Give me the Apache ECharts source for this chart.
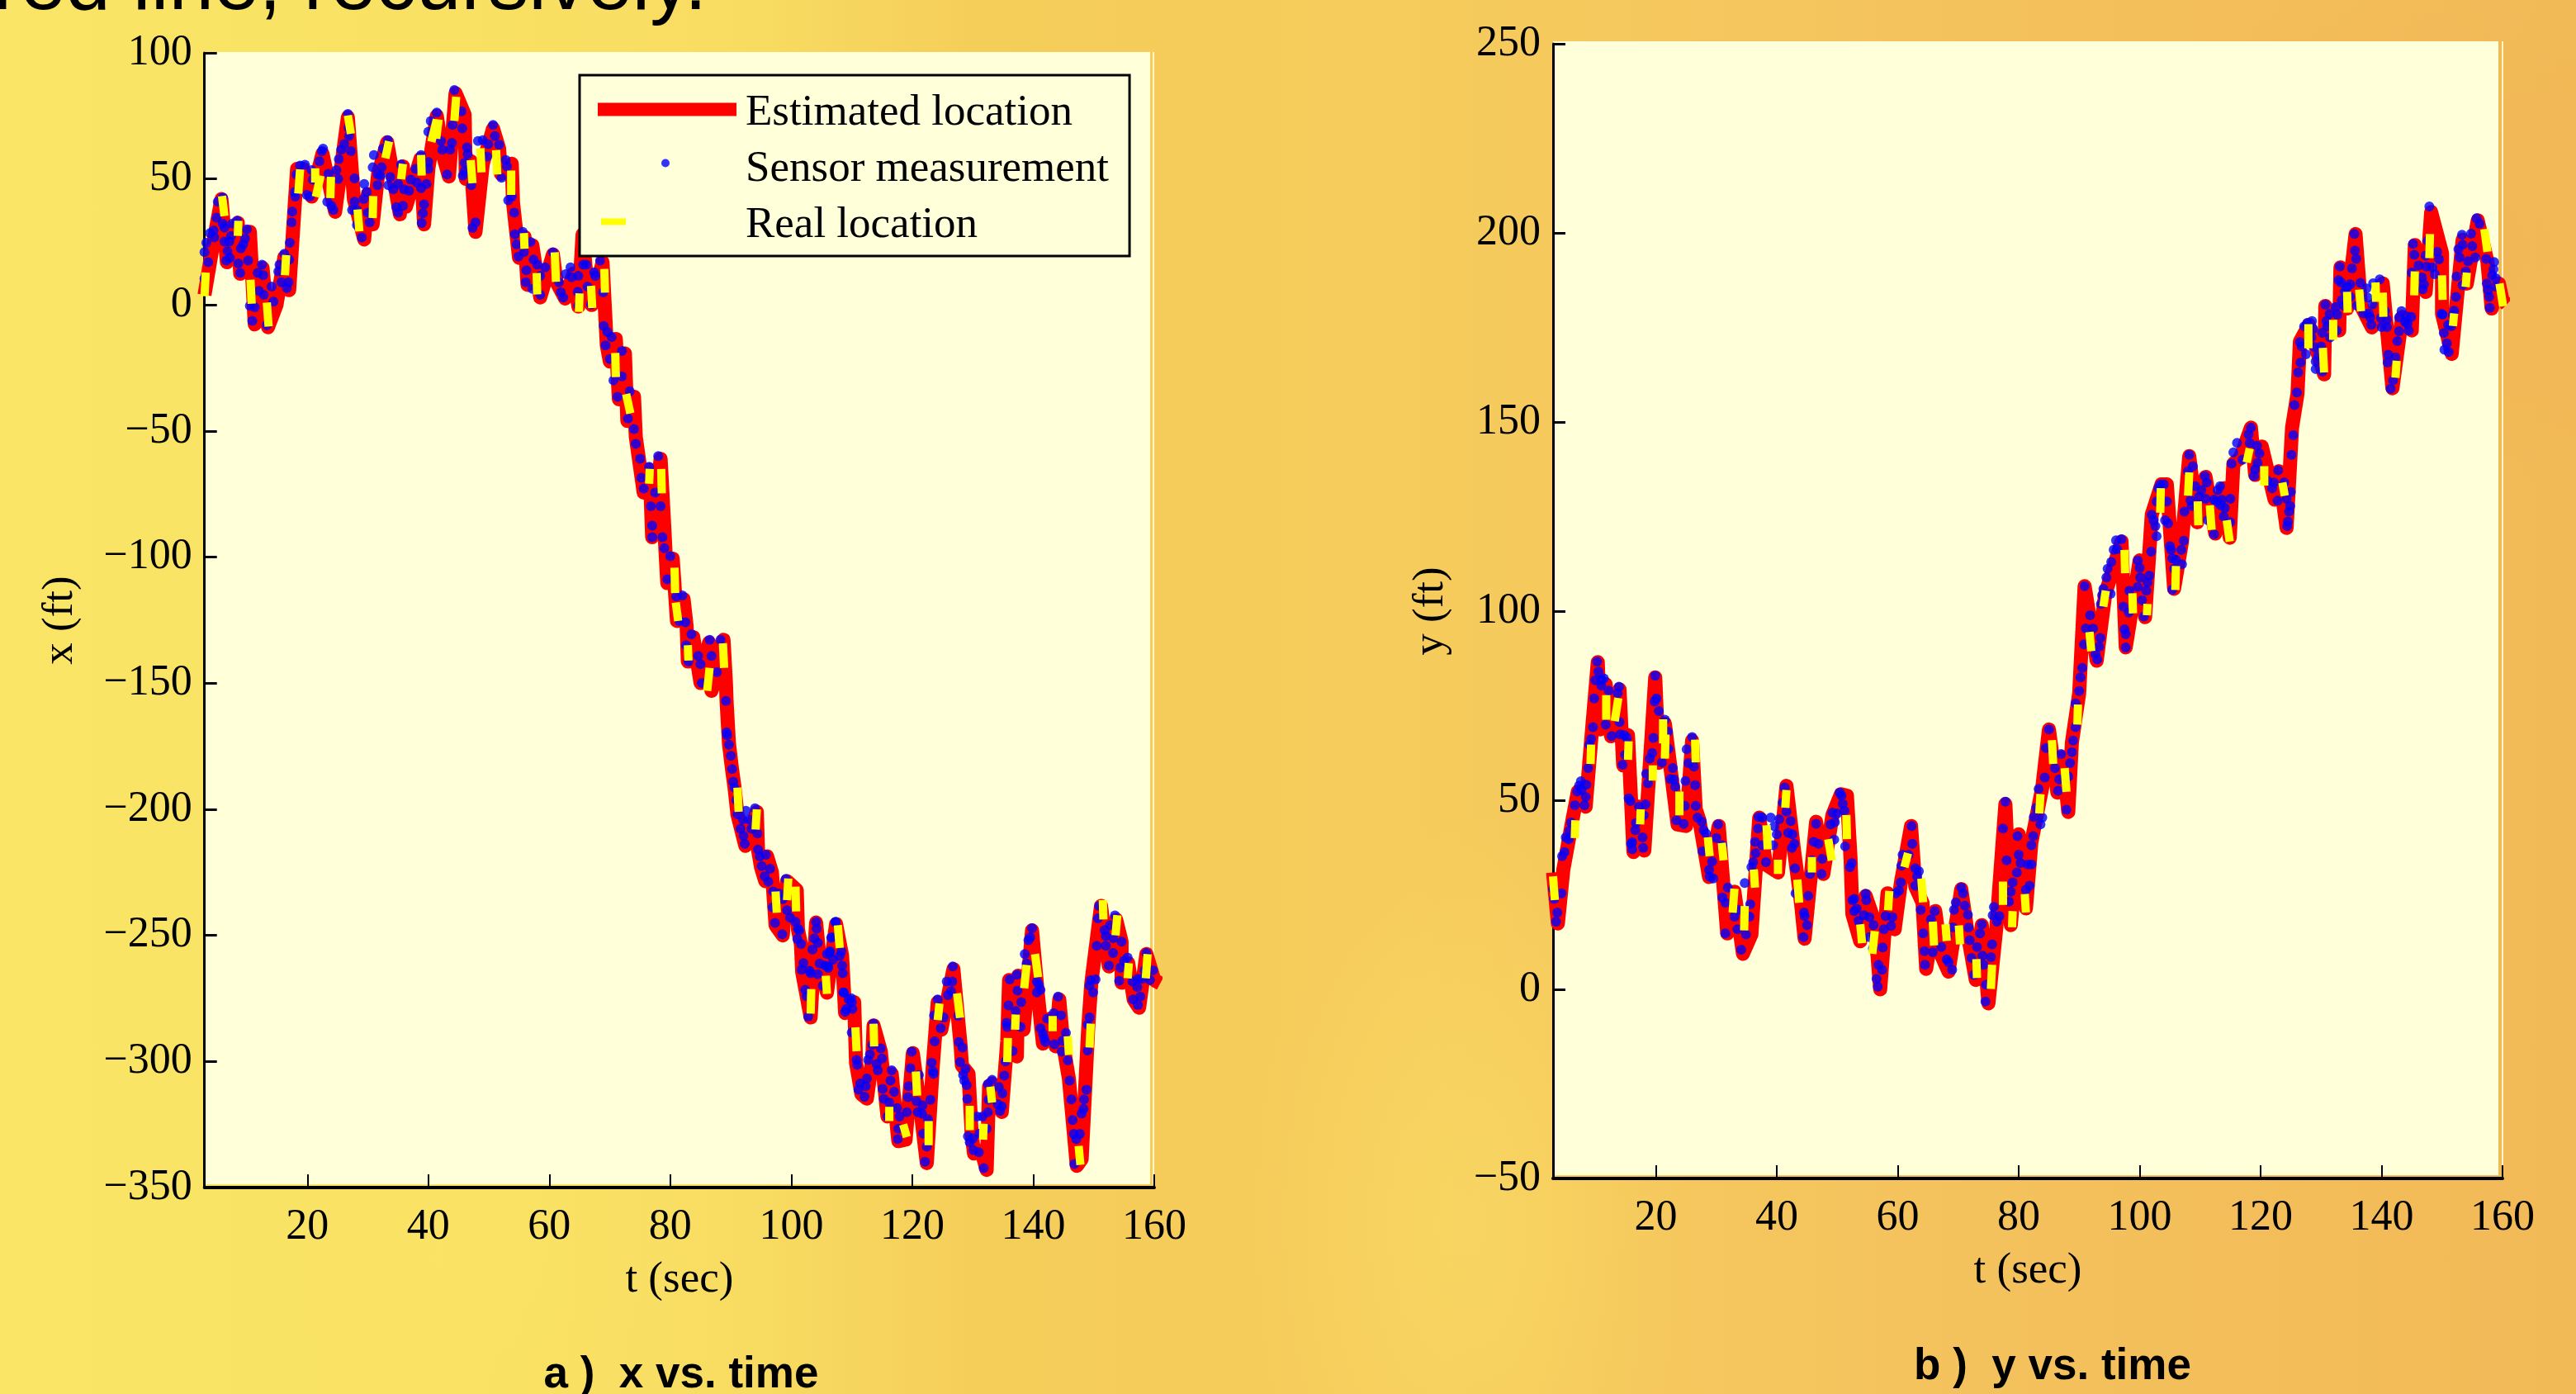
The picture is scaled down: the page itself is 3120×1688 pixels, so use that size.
<!DOCTYPE html>
<html><head><meta charset="utf-8">
<style>
html,body{margin:0;padding:0;width:3120px;height:1688px;overflow:hidden;
background:
 radial-gradient(ellipse 260px 500px at 1780px 1480px,rgba(249,217,100,.75),rgba(249,217,100,0)),
 radial-gradient(ellipse 500px 300px at 2900px 300px,rgba(241,178,84,.55),rgba(241,178,84,0)),
 radial-gradient(ellipse 300px 500px at 600px 1500px,rgba(251,228,103,.5),rgba(251,228,103,0)),
 linear-gradient(90deg,#FAE567 0,#F9E263 500px,#F8DC62 900px,#F5CD59 1200px,#F6CC5C 1700px,#F4C35E 2300px,#F2B957 3120px);}
#c{width:3120px;height:1688px;}
</style>
<script src="https://cdn.jsdelivr.net/npm/echarts@6/dist/echarts.min.js"></script>
</head><body><div id="c"></div>
<script>
const tickT = [20,40,60,80,100,120,140,160];
const seriesNames = ['Estimated location','Sensor measurement','Real location'];
const estimatedX = [[3,4],[4.4,24],[5.8,42],[6.7,17],[7.6,26],[8.5,32.6],[8.9,12.4],[10.5,29],[11.3,-7.7],[12.6,14.7],[13.5,-8.8],[14.9,0],[16.2,19],[17,5.9],[18.3,54],[19.3,54],[20.7,43],[22.5,60],[24.6,37],[26.7,74.5],[27.7,42],[29.4,26],[30,44],[30.8,32],[31.7,52],[33.2,64.5],[35.3,36],[35.8,55],[36.3,39],[38.7,58],[39.3,32],[40,54],[41.4,75],[42.3,60.5],[43.4,51],[44.5,84],[46,75.5],[46.2,50],[47,57],[47.8,29],[49,56],[50.7,70],[51.7,62],[52,52],[53.8,56],[54,40.6],[55,18.7],[55.9,27],[56.4,8],[57.2,23.6],[58.5,3],[60.6,20],[61.2,9],[62.6,2.6],[64,12.5],[64.8,-0.6],[65.5,28],[66,15],[67,0],[68.8,16.9],[69.5,-15.9],[70,-22.4],[71,-13.5],[71.5,-37.4],[72.5,-19.2],[72.9,-46],[74,-36.4],[74.3,-52.4],[75,-64.2],[75.6,-74.4],[76.6,-65.3],[77,-92.1],[78.4,-61],[79,-87.8],[79.2,-97.4],[79.5,-110.3],[80.4,-100.6],[81.1,-125.3],[82.2,-116.7],[82.7,-127.4],[82.9,-141.4],[83.8,-131.7],[85,-149.9],[86.4,-133.9],[86.8,-153],[87.6,-147.8],[88.8,-132.8],[89.2,-150],[89.3,-157],[89.7,-174],[90.2,-184],[90.6,-191],[91.1,-202],[92.4,-214.5],[94.3,-201],[94.5,-216],[95,-223],[95.7,-228.5],[96,-218.7],[96.8,-225],[97.4,-246],[98.6,-250],[99.3,-228.5],[100.9,-232],[101.1,-247.6],[101.6,-253.6],[101.8,-264.5],[103.2,-282.5],[104.1,-244.9],[104.8,-262],[105.9,-272.7],[107.4,-245.5],[108.4,-258],[108.9,-280.8],[110.4,-276.5],[110.7,-300.5],[111.6,-313],[112.5,-314.7],[113.4,-299],[113.6,-285.7],[114.8,-296],[115.9,-321.8],[116.6,-304.9],[117.7,-331.6],[118.9,-331],[120.1,-296.7],[121.4,-320],[122.4,-340.3],[123.4,-301.6],[124.2,-276.5],[124.8,-287.4],[126.8,-263.4],[128,-294],[128.2,-301.6],[129.3,-304.9],[129.8,-327.8],[130.2,-336.5],[131.4,-335.4],[132.3,-343],[132.7,-310],[133.2,-308.7],[134.8,-320],[135.7,-291.8],[136,-267.7],[137.3,-298],[137.5,-266],[138.4,-287.4],[139.8,-248],[140.7,-272],[141.6,-292.9],[142.8,-283],[143.7,-294],[144.3,-275.4],[145,-294],[145.9,-307],[147.2,-341.4],[148,-338.7],[149.1,-286],[149.6,-268.8],[151.2,-238.3],[152.5,-262.3],[153.7,-243.7],[154.6,-252.5],[154.6,-268.8],[155.7,-261],[156.6,-275.4],[157.5,-278.7],[158.7,-257.4],[160,-267.7],[161,-269]];
const sensorX = [[3,10.5],[3,21],[3.6,17],[3.3,24.7],[3.9,28.5],[4.5,29.6],[4.6,26.8],[5,34.7],[5.2,41],[6,42.6],[6,32.3],[6.3,30.7],[6.3,25.2],[6.6,17.6],[6.8,21.4],[7.2,18.7],[7.1,25.2],[7.6,32.3],[7.4,27.4],[8.4,33.4],[8.6,16.5],[8.9,12.7],[9,22.5],[9.4,24],[9.7,26.3],[10,30],[10.2,17.6],[10.5,-0.3],[11.3,-0.9],[10.9,-6.3],[11.8,12.7],[12.5,16],[12.7,11.8],[12,5.6],[12.8,4],[13.3,-8],[14.4,1.3],[14.1,7.3],[15.4,16],[15.2,13.3],[15.7,9],[16.2,20.3],[16.9,9],[16.6,6.7],[17,18],[17.1,24.7],[17.4,32.8],[17.5,37],[18,43],[17.9,44.8],[18.2,51.8],[18.8,55.3],[19.6,55.6],[19.9,43.7],[20.7,53.5],[20.9,49.7],[20.4,43],[22,57],[22.4,61],[22.6,62],[23.5,52],[23.3,41],[24,39.3],[24.3,37.7],[24.8,53.5],[25.1,50],[25.2,57.8],[25.6,61.6],[26.1,63.8],[27.2,61],[26.8,70.3],[26.7,75.8],[26.9,67],[27.8,50.2],[27.4,37.7],[27.8,41],[28.2,37.7],[28.2,31.7],[29,26.8],[29.4,48],[29.8,44.8],[29.3,42],[30.3,32.8],[30,36.6],[31.6,47.5],[31,59.5],[30.8,54.6],[31.6,51.8],[32.3,54.6],[32.1,51.3],[32.5,62],[33.3,65.4],[33.7,50.8],[33.4,47.5],[34.2,45.9],[35,48],[34.7,38.8],[35,36.6],[35.8,39.3],[35.5,55.7],[36,45.9],[36.8,45.3],[37.1,49.7],[37.9,54],[38.1,48.6],[38.8,59.5],[38.8,46.4],[39.7,48],[40,54],[40,56.7],[39.3,39.9],[39.1,36.4],[38.9,32.5],[40,68.7],[40.4,73],[41.4,76.3],[42.1,65],[42.3,61.6],[43.1,51.8],[43.6,61.6],[43.9,64.3],[44.3,85.3],[44,71.4],[45.5,76.8],[45.6,70],[46.4,62.5],[46.5,59.8],[46,56.4],[46,53],[45.7,51.3],[47.1,47.5],[47.3,30.6],[47.8,32.8],[48.2,65],[49,65.4],[49.9,63.8],[50.7,71.4],[49.7,58.9],[51,67],[51.7,63.6],[52.1,50.5],[52.8,57.5],[53,55],[53.8,43],[53.2,41.5],[54.2,36.6],[54.3,28],[55.6,29],[54.6,24],[56.9,25],[54.9,19.2],[55.8,21],[56.2,13.8],[56.1,9],[57.4,18],[58,16],[57.2,6.4],[58.5,4],[59.3,14.9],[58.5,11.6],[60.6,20.9],[61.9,5],[62.3,3],[61.6,9],[62.7,12.2],[63.5,14.9],[63.7,11],[64.8,11.6],[64.7,5.3],[64.8,-0.3],[65.6,16],[66.1,16],[66.9,0.2],[66.3,7.3],[67.4,13],[67.6,11.6],[68.4,17.6],[68.9,5],[69,-8.3],[69.6,-10.7],[70.3,-12.7],[69.3,-16],[70,-21.4],[70.6,-29.9],[72,-28.3],[71.3,-36.4],[72,-18.2],[73.3,-34.2],[73,-45],[74,-49.2],[74.3,-55.1],[75,-61],[76.5,-64.2],[78,-59.9],[75.2,-68.5],[75.6,-72.8],[77.5,-74.4],[76.8,-79.8],[78.4,-79.8],[77,-87.5],[77,-92.1],[78.7,-92.1],[79,-96.4],[80,-99.6],[79.5,-108.8],[81,-115.6],[82,-115.2],[81.5,-125.3],[82.5,-125.8],[83.5,-130.6],[82.6,-134.9],[83,-141.4],[84.6,-139.2],[86.5,-132.8],[85,-142.4],[88.3,-132.8],[86.8,-139.2],[87.7,-145.6],[85.2,-149.9],[89.2,-157],[89.3,-169.5],[89.4,-170.6],[89.7,-174.4],[90,-178.8],[90.2,-184],[90.4,-189],[90.6,-191.4],[90.9,-196.3],[91.1,-202],[92.5,-200.6],[92,-204],[91.6,-207.7],[92.1,-210.5],[92.3,-213.7],[93,-204],[94,-199.6],[93.4,-207.7],[94.4,-209.6],[94.5,-216],[94.8,-218.7],[95.8,-218],[95.1,-222.5],[96.5,-223.6],[95.6,-226.5],[96.2,-228.7],[97,-232.6],[99.1,-227.6],[98,-233.4],[98.6,-235.6],[96.9,-238.9],[97.3,-245],[99.3,-240],[98.5,-249.5],[99.8,-243],[100.7,-244.6],[101.1,-247.3],[101.3,-248.1],[101,-251.4],[101.6,-253.4],[102,-261],[101.7,-263.6],[103,-264],[103.2,-265],[104.1,-244.6],[104.2,-247.3],[103.8,-251.2],[104.4,-253],[103.5,-255.6],[104.4,-265.4],[104.7,-261.2],[105.6,-262],[106.1,-262.9],[105.9,-257.4],[106.4,-256.3],[106.9,-259.6],[106.6,-250.9],[107.3,-244.6],[108,-258.2],[108.3,-256.3],[108.4,-262],[108.5,-265],[102.3,-271.6],[102.5,-274.1],[102.8,-282.2],[105.2,-270],[108.7,-272.7],[109.5,-275.4],[109.9,-274.9],[110.1,-279.2],[108.9,-280.3],[107.3,-244.8],[106.7,-250.8],[106.4,-256.8],[106.1,-262.3],[108.6,-272.6],[110,-276.5],[109.1,-279.2],[110,-288.5],[110.8,-299.4],[110.9,-301.4],[111.4,-308.7],[112.5,-306.8],[112.3,-309.8],[111.1,-311.2],[112.1,-314],[113.6,-285],[113.4,-293.4],[114.8,-294.8],[113,-297.2],[115,-298.8],[112.7,-299.4],[114.1,-301],[114.3,-303.5],[116.6,-303.5],[116.4,-307.6],[115.1,-310.9],[117,-312],[115.3,-314.9],[116.2,-316.3],[117.5,-318.5],[117.9,-321.8],[115.9,-321.8],[119.1,-320.1],[117.7,-326.7],[117.6,-330.8],[119.9,-296.1],[119.7,-302.7],[119.4,-309.8],[121.1,-305.4],[119.3,-314.1],[120.7,-315.8],[121.7,-317.4],[120.9,-320.1],[121.6,-320.7],[122.6,-322.9],[121.8,-328.6],[122.4,-333.8],[122.1,-339.8],[123,-315.2],[123.2,-300.5],[123.4,-303.8],[123.5,-304.9],[123.7,-292],[124.2,-275.4],[123.6,-281.7],[125.2,-282.5],[124.7,-286.8],[125.7,-268.3],[126.6,-268.3],[126.7,-262.3],[126.4,-272.1],[125.9,-273.7],[127.6,-281.9],[127.7,-292.3],[128.3,-294.5],[127.9,-300.2],[128.8,-302.9],[128.4,-305.4],[128.6,-307.6],[129,-309.4],[129.1,-314.9],[129.2,-329.7],[130,-330.5],[129.5,-332.1],[130.1,-335.2],[131,-336],[130.7,-321.8],[131.6,-321.8],[132.5,-320.1],[132.3,-326.7],[131.1,-328.6],[131.8,-342.3],[132.5,-309],[133.2,-307.3],[134.3,-310.1],[134.9,-312.7],[132.6,-315.2],[134.1,-316.9],[134.8,-317.7],[134.5,-319.6],[135.2,-305.6],[135.4,-300],[136.6,-295.9],[135.7,-286.3],[135.6,-284.7],[135.9,-277.8],[136.1,-267.5],[137.3,-265.6],[137.4,-271.9],[138,-276.5],[137.1,-280],[137.9,-286.3],[138.6,-257.4],[138.9,-261.2],[139.2,-251.9],[139.5,-250.8],[139.8,-247.2],[140.6,-268.3],[140.9,-269.4],[140.6,-272.6],[141.2,-271.6],[142.3,-283],[143.4,-280.8],[144.1,-274.3],[144.6,-281.7],[141.2,-286.8],[141.6,-289],[141.8,-290.7],[142,-292.3],[143.5,-293.2],[144.8,-291.8],[145.4,-288.7],[144.7,-296.1],[145.7,-299.6],[146,-307.6],[146.3,-315],[146.5,-323.2],[146.7,-328.7],[147.7,-328.7],[147.1,-330.8],[146.8,-340.7],[148.8,-311.2],[148.4,-315],[148.3,-318.8],[148,-320.7],[149,-295.6],[149,-285.4],[149.3,-282.5],[149.9,-272.6],[149.3,-269.9],[150.3,-267.5],[149.5,-267.7],[150.5,-254.1],[150.7,-243.2],[150.9,-238.3],[151.8,-247.9],[152,-250.3],[152,-254.1],[152.7,-245.9],[153.2,-251.1],[153.5,-242.1],[154.6,-252.5],[153.2,-257],[152.5,-262],[154.4,-262.8],[155,-260.1],[155.6,-258.8],[154.2,-268],[156.4,-268.3],[157.3,-267.2],[157.2,-270.5],[158,-267.2],[156.5,-275.4],[157.7,-274.3],[157.3,-277.6],[158.7,-257],[158.4,-263.9],[159.3,-267.7],[159.8,-263.9]];
const realX = [[3.2,12.9,3,3.5],[5.9,43.2,6.3,35.3],[8.6,33.4,8.5,27.4],[10.6,10,10.8,0.5],[13.3,1,13.6,-8.5],[16.5,19.8,16.3,11.8],[18.8,53.8,18.5,44.2],[21.3,54.2,21.3,48.6],[22.2,51.3,21.4,42.9],[23.9,50.8,23.8,42.4],[26.7,75.2,27.2,67.9],[28.3,37.9,28.6,29.2],[30.9,43.2,30.8,34.5],[33.5,64.9,32.9,58.2],[35.8,56,35.5,49.9],[38.8,59.5,38.9,51.3],[41.4,73.6,40.5,64.7],[41.7,73.6,41.3,66],[44.6,82.6,44.3,73],[47,57.5,47.3,48.3],[48.6,62.2,48.8,52.6],[51.2,61.4,51.4,51.8],[53.7,53.3,53.7,43.7],[55.8,28.5,55.9,22.3],[57.9,12.7,58,4.2],[60.9,20.9,61.1,9.2],[65,4.6,64.9,-2.7],[66.9,7.6,67.1,-1.2],[69.1,14.3,69.2,4.9],[70.9,-19,71,-28.6],[72.7,-35.3,73.4,-43],[76.6,-65,76.5,-70.9],[78.5,-65,78.6,-74.7],[80.7,-104.2,80.8,-114.2],[80.9,-118,81.3,-125.3],[82.9,-134.9,83,-141],[88.7,-134.2,88.9,-143.9],[86.5,-143.9,86.1,-153],[91.1,-191.4,91.3,-201],[94.3,-200,94.1,-208],[97.4,-232.6,97.6,-241],[99.5,-227.4,99.3,-236],[100.7,-230.7,100.8,-240.5],[107.7,-246,108,-255],[103.3,-271.3,103.2,-281],[105.7,-266,105.9,-273.2],[110.6,-286.5,110.8,-296],[113.6,-285,113.7,-294],[116.2,-318,116.2,-323.6],[118.5,-325,119.1,-330],[120.6,-304,120.8,-313.6],[122.7,-323.6,122.7,-333.2],[124.5,-277,124.2,-283.6],[127.4,-273,127.9,-282.7],[129.5,-317.6,129.5,-327.2],[131.8,-324.7,131.7,-331],[132.9,-310,133.2,-316.3],[135.8,-290.7,135.7,-300.3],[137.1,-281.4,137,-287.4],[138.9,-261.7,138.5,-271],[140.3,-257.4,140.8,-266.6],[143.2,-282,143.2,-288],[145.7,-290,145.9,-297.4],[147.5,-333.5,147.8,-341],[149.5,-285,149.3,-294.5],[151.5,-236,151.6,-243.7],[153.9,-242,153.6,-250],[155.8,-261,155.6,-267],[158.9,-257.4,158.6,-267]];
const estimatedY = [[3,30.9],[3.8,17.4],[4.7,31.6],[6.2,44.7],[7.1,52.3],[8.4,48.3],[9.3,65.8],[10.4,86.5],[10.8,68.7],[11.7,80.7],[12.6,66.9],[14,79.3],[14.6,59.2],[15.4,67.2],[16.3,36.3],[17.1,48.3],[18.1,36.7],[19.9,82.5],[20.5,59.9],[21.5,70.2],[23.6,43.6],[25,43.2],[26,65.8],[26.6,47.6],[27.2,44.7],[28.8,29.7],[30.4,43.2],[31.8,14.8],[33,25.8],[34.4,9.4],[35.8,14.5],[37.1,45.4],[38.2,33],[40.2,30.9],[41.6,53.8],[42.8,37.4],[44,22.9],[44.6,13.4],[46.5,44.3],[47.7,30.5],[49.2,46.1],[50.6,51.6],[51.6,51.2],[52.2,34.5],[52.5,19.9],[53.8,12.7],[54.7,24.7],[56.2,17.8],[57.1,0],[58.3,25.4],[59.5,15.9],[60.5,28],[62.2,43.2],[62.9,27.2],[64.1,22.9],[64.7,5.4],[66.2,20.7],[67.2,9],[68.4,4.7],[70.5,26.5],[71.7,13.4],[72.9,2.5],[73.9,17],[75,-3.7],[76.3,16.3],[77.8,49],[78.7,17],[80,41],[81.2,21.4],[82.1,38.9],[83.9,53.4],[85,68.7],[86.4,52],[87.3,61.4],[88.2,46.9],[88.8,65.3],[90,78.3],[90.9,106.6],[92.9,86.9],[94.3,104.4],[97,118.4],[97.7,90.4],[100,113.4],[100.9,98.4],[102,125.5],[103.6,133.5],[104.5,133.5],[105.7,105.9],[107,118.4],[108.2,141],[109.5,123.5],[110.9,135.5],[112.5,120.5],[113.9,132.5],[114.9,119.4],[115.5,139],[116.6,140.5],[118.4,148.5],[119.1,136],[120.2,143.5],[122.3,129.5],[123,137],[124.3,122],[125.2,148.5],[126.1,157.5],[126.5,171.3],[128,175.7],[130.5,162.6],[130.7,180.7],[133,174.2],[133.2,190.9],[134.3,180],[135.7,199.7],[136.6,180.7],[138.4,175],[140.2,186.6],[141.8,158.9],[143.4,177.8],[145,174.2],[145.5,196.8],[147.3,184.4],[148.2,205.5],[150,194.6],[150,178.6],[151.6,168],[153.4,198.2],[154.1,186.6],[155.9,203.3],[157.5,192.4],[158.2,180],[159.4,186.6],[160,182.2],[160.7,181.1]];
const sensorY = [[3,26.5],[3.2,23.9],[3.7,20.3],[3.5,17.9],[4.4,25.4],[4.5,35.2],[4.9,36.3],[5.1,40.2],[5.6,39.7],[5.7,41.9],[6,44.1],[6.6,48.7],[7,52.3],[7.6,55],[7.3,53.8],[7.7,52.7],[8.5,54.1],[8.4,50.9],[8.2,48.7],[8.8,58.5],[9,64.7],[9.3,66.2],[9.8,76.9],[9.6,69.3],[10.3,86.7],[10.5,84],[10,81.7],[11,81.8],[11.4,82.2],[11,80.3],[12.2,79],[11.7,70],[12.7,67],[14,70.7],[13.7,78.3],[13.9,80],[14.1,67.4],[14.8,67.2],[15.2,66.5],[14.9,62],[14.5,59.4],[15.5,50.5],[15.8,49.8],[16.1,38.9],[15.9,38.5],[16.1,37],[16.6,42.1],[16.7,44],[17.2,48.3],[18.3,48.9],[18,46],[17.8,40.2],[17.9,37.4],[18.4,57],[18.7,54.5],[19,61],[19.4,62.5],[19.6,66.5],[19.8,76.1],[19.9,82.9],[20.1,76.9],[20.5,73.6],[21,60],[21.5,71.3],[22,68.1],[22.1,63.6],[22.8,58.5],[22.4,55.6],[23,55.5],[23.2,53.6],[23.4,44.7],[24.6,43.7],[24.9,55.1],[24.8,48.5],[25.4,59.8],[25.1,63.5],[26,66.7],[26.3,58.9],[26.5,54],[26.6,48.5],[26.9,45.4],[27.6,44.3],[27.9,42.1],[28.3,41.2],[27.7,36.5],[28.8,31.6],[29.3,33.8],[28.9,29.8],[29.5,29.3],[30,40],[30.3,43.6],[31,38.1],[31.9,26.9],[31,24.3],[31.5,22.9],[31.5,14.8],[33,19.2],[33.6,21],[33.5,15.9],[34.1,10.5],[34.9,14.5],[35.6,22.5],[35.5,19.2],[34.7,28.1],[35.8,32.3],[36.1,33.6],[36.5,36],[36.4,39],[37,45.6],[36.9,42.5],[37.6,45.4],[39,45.4],[37.6,38.1],[38.2,33.6],[39.6,43.1],[39.4,38.1],[40,41],[40.4,45],[41.3,53.4],[41,49.4],[41.6,47],[42.3,44.5],[41.9,41.4],[42.6,41],[42.9,38.5],[42.5,37.4],[43,32],[43.1,25.4],[45.2,24.7],[44.5,20.3],[44.6,19.4],[45,17],[44.4,13.8],[45.5,30.5],[45.8,34.1],[46.1,39],[46.5,43.8],[46.9,38.5],[47.4,30.5],[47.5,34.5],[48.9,43.6],[49.5,39.6],[49.6,44.2],[49.2,46.7],[50,46.5],[51.2,47.2],[50.4,52],[50.7,51.2],[50.9,49],[51.3,37.8],[52.1,32.3],[52.4,33.4],[52.5,23.6],[52.8,23.9],[52.8,20.7],[53.2,21.3],[53.5,18.1],[54.7,25.2],[54.8,23.6],[54.4,19.6],[55.3,19.1],[56,17],[55.3,13.8],[55.9,10.8],[57.5,11.1],[56.8,6.5],[57.4,5.2],[56.5,2.8],[56.7,0.7],[57.7,15.9],[58.9,16.8],[58,19.4],[59.1,19.1],[59.7,25.4],[60.2,26.1],[60.5,28.3],[60.6,32.7],[60.8,35.6],[61.8,35.6],[62.3,43.2],[62.4,38.5],[62.9,32],[63.5,31.2],[63.2,29.8],[62.9,27.4],[63.8,21],[64.2,14.8],[64.4,10.1],[64.5,6.5],[66.1,20.7],[65.5,18.5],[65.8,9.8],[67.2,11.2],[68.1,14.1],[69.1,16.4],[68.1,7.9],[68.4,7.2],[69,5.2],[69.3,21],[69.6,23],[70.5,26.9],[70.8,25.4],[71.1,22.1],[71.6,19.7],[71.7,16.3],[71.9,13],[73.9,17.2],[73.6,14.8],[72.2,8.3],[73.1,11.2],[74,8.9],[74.2,6.5],[72.6,3.8],[75.4,8.5],[75.6,11.9],[74.6,1.2],[74.5,-3.2],[75.9,21.8],[75.7,19.6],[76.8,19.4],[76.4,17.9],[77.4,42.5],[77.8,49.6],[78,34.1],[78.7,25.8],[78.4,23.2],[79,28.3],[79.7,30.9],[80,35.6],[80.3,33.4],[79.8,40.5],[81.5,33],[82.1,33],[81.8,27.4],[81.2,26.3],[82.1,38.1],[82.4,40.5],[82.5,45.6],[83.9,45.4],[83.6,43.6],[83.3,53],[82.9,48],[85,68.7],[84.5,63.8],[84.3,56],[86,58.5],[87,62.2],[88.5,59.8],[86.5,52.5],[86.7,55.5],[87.9,47.5],[88.2,56.3],[88.8,62.7],[89,65.8],[89.4,69.3],[89.4,75.6],[90,78.9],[90.2,82.5],[90.5,85],[90.9,106.6],[91.8,98.9],[91.1,95.4],[90.8,91.2],[92.3,95.4],[93.5,92.9],[93.3,90.6],[92.7,88.6],[93,87.2],[93.6,101.9],[93.8,104.2],[94,105.9],[95.2,104.6],[94.5,108.9],[94.7,111.2],[95.3,113],[95.7,116.2],[96.1,118.7],[97,119],[96.3,116.4],[97.5,95.2],[97.7,93.9],[97.7,90.4],[97.3,101.2],[98.3,105.4],[99.7,106.4],[98.2,99.6],[100.4,102.9],[100.7,98.6],[101.1,105.4],[101.3,107.6],[101.6,109.4],[100.1,108.9],[100,111.4],[99.7,113.4],[101.9,115.7],[102.8,119.8],[102.6,122.5],[102.3,124],[102,125.5],[104.5,129],[102.8,129],[103.1,132.5],[103.4,133.5],[104,133.5],[104.2,124],[104.7,123.2],[105,117.2],[105.2,116.2],[105.4,113.9],[106,113.6],[105.7,111.2],[105.4,105.7],[107,112.4],[106.9,116.2],[107.3,118.6],[107.4,126.3],[108.2,141.3],[108.8,138.3],[108,137],[108.4,129.3],[108.6,127.8],[109.2,133],[109.8,130.2],[110.2,132],[110.8,135.7],[111.1,134],[110.9,129.7],[112.3,129.5],[112.7,129],[113.6,129.5],[115,129.7],[114.1,127.3],[113.4,128],[112.9,132],[113.3,133],[112.3,120.3],[111.3,124],[113.9,125],[115,123.5],[115.2,139],[115.5,142],[116.1,144.5],[117,140],[118.4,148.5],[118,146.7],[118.2,144.5],[119.4,143.7],[119.8,141.7],[119.5,139.2],[119.1,137.5],[118.9,135.7],[121.1,134.5],[121.9,132.5],[122.9,137.2],[122.2,134],[123.9,134],[122.8,129.2],[125,131.5],[124.3,129.7],[124.9,127.8],[124.7,126.3],[124.5,123.7],[124.4,122.5],[125.1,141.3],[125.4,146.5],[125.6,154.5],[126,157.8],[126.2,163.1],[126.6,165.7],[126.5,171.1],[126.8,170],[127.5,167.9],[127.2,175.3],[127.7,176.2],[128.5,176.7],[128.7,174.6],[128.4,172.4],[128.9,169.8],[130.2,173.6],[130,170],[129.5,167.6],[129.1,166],[129.1,164],[130.2,163.3],[130.7,181],[132.4,180.4],[131.4,178.6],[132.7,178.4],[130.9,176.7],[131,175.3],[132.6,174.2],[131.5,172.4],[133.1,191.1],[132.9,187.5],[133.3,186.9],[134.8,186.4],[134.3,185.7],[133.9,184.5],[134.8,183.1],[133.4,182.2],[133.8,180.7],[135.5,199.7],[135.6,195.3],[135.8,193.1],[135.1,190.6],[136.5,186.8],[135.9,180.8],[137.5,185.3],[138.6,186.7],[139.7,187.7],[137.7,182.9],[138.5,181.1],[137,178.7],[137.9,178.7],[138.1,177.7],[138.3,175.7],[140,175.1],[140.9,175.1],[139.9,177.5],[140.6,179.3],[140.9,177.1],[142.9,174],[142.6,171.4],[141.1,167.8],[141,165.7],[142.3,167.1],[141.9,161],[141.5,158.8],[143.3,179.3],[142.9,177.7],[144.1,178],[144.9,177.8],[143.9,176.4],[144.3,176],[144.5,174.2],[145.2,197.1],[145.4,194.2],[146.1,191.4],[147.4,191.1],[148.4,190.9],[148.8,189.1],[145,189.5],[146.7,188.2],[147,186.4],[146.8,185.1],[147.9,207],[147.6,197.9],[147.3,194],[149.2,195],[149.5,193],[149.9,178.6],[150.1,178.4],[152,179.4],[151.8,178.2],[151,175.7],[151.5,175.3],[150.3,173.5],[150.8,170.8],[150.4,169.1],[151.1,168.5],[152.3,183.1],[152.4,188.5],[152.7,195.7],[153.3,199.5],[153.4,196.9],[152.9,193.5],[154.3,192.5],[155.5,193.5],[153.9,189.8],[153.4,186.2],[154.8,199.8],[155,196.5],[155.7,203.9],[156.2,202.4],[157.3,193.1],[158.6,192.3],[158.5,190.4],[158.3,188.8],[158.9,188],[157.4,186.6],[157.6,184.8],[157.8,183.1],[158.9,185.8],[157.9,180.2]];
const realY = [[3,29.9,3.3,23.6],[6.7,44.7,6.6,40],[9.3,64.7,9.2,59.6],[11.8,77.8,11.8,71.3],[13.8,77,13.2,70.9],[15.5,65.6,15.4,60.7],[17.5,47.6,17.4,43.6],[19.5,59.2,19.5,55.2],[21.2,71.4,21.2,65],[21.6,67.4,21.5,61],[23.9,52.3,23.9,46],[26.5,66,26.6,60],[28.6,40.2,28.9,35.2],[30.9,38.7,31.2,34.1],[33,26.6,32.7,20.3],[34.7,22,34.6,15.6],[36.2,31.7,36.4,26.9],[38.3,43.4,38.5,37],[40.2,34.3,40.2,30.5],[41.6,52.7,41.4,48],[43.4,29,43.7,22.9],[45.8,35,45.8,30.9],[48.5,39.7,49.1,34.1],[51.5,46.1,51.6,39.7],[53.8,17.2,54.1,12.2],[56.2,15.4,55.8,9.4],[58.6,26,58.4,20.9],[61.7,36,61.1,32.3],[63.9,29.3,64.2,23],[65.8,17.9,66,11.6],[67.9,17.2,68.1,12.8],[70.1,16.9,70.3,11.9],[73,8,73.1,3],[75.6,6.5,75.4,0.1],[77.4,28.5,77.4,22.3],[79,20.7,78.9,16.4],[81,25.2,81.2,20.3],[83.6,51.6,83.4,46.5],[85.5,65.9,85.7,59.6],[87.6,58.5,87.9,52.2],[89.8,75.3,89.7,70],[91.7,94.5,92,89.4],[94.4,105.4,94,101.2],[97.5,116.2,97.6,110],[98.8,104.7,98.9,99.4],[101.3,101.9,101.2,98.9],[103.5,132.5,103.4,126],[106,111.9,105.9,105.6],[108.2,136.7,108,130.5],[109.6,129,109.7,122.7],[111.6,128,111.9,121.5],[114.4,124,114.9,118.4],[118.2,143,117.7,139.3],[120.6,138.3,120.6,133.2],[123.6,134,124,130.5],[127.9,175.9,127.9,169.5],[130.3,169.6,130.5,163.1],[132,177,132,171.7],[134.3,184.4,134.4,178.9],[136.3,185,136.6,179.3],[139,186.9,139.1,181.8],[140.2,184.2,140.3,177.8],[142.5,166.2,142.3,161.7],[145.5,189.8,145.4,183.5],[148,199.7,147.9,193.3],[150,188.8,150.1,182.3],[152,178.7,151.8,175.4],[154.1,189.5,153.9,185.7],[157,201,157.5,195],[159.5,186.6,160.1,180.6]];

const SERIF = '"Liberation Serif","Times New Roman",serif';
const SANS = '"Liberation Sans",Arial,sans-serif';
const PALE = '#FFFFD9';
const segments = s => { const out = []; s.forEach(d => { out.push([d[0],d[1]],[d[2],d[3]],[d[2],'-']); }); return out; };
const minus = v => String(v).replace('-', '\u2212');

const chart = echarts.init(document.getElementById('c'), null, {renderer:'canvas', width:3120, height:1688});
const grids = [
  {left:247.7, top:64, width:1150.3, height:1374},
  {left:1881, top:53, width:1150, height:1374}
];
const makeX = (i) => ({
  type:'value', gridIndex:i, min:3, max:160,
  splitLine:{show:false},
  name:'t (sec)', nameLocation:'middle', nameGap:86,
  nameTextStyle:{fontFamily:SERIF, fontSize:53, color:'#000'},
  axisLine:{show:true, onZero:false, lineStyle:{color:'#000', width:4}},
  axisTick:{show:true, inside:true, length:16, customValues:tickT, lineStyle:{color:'#000', width:2}},
  axisLabel:{show:true, customValues:tickT, margin:22, fontFamily:SERIF, fontSize:52, color:'#000'}
});
const makeY = (i, lo, hi, nm, gap) => ({
  type:'value', gridIndex:i, min:lo, max:hi, interval:50,
  splitLine:{show:false},
  name:nm, nameLocation:'middle', nameGap:gap,
  nameTextStyle:{fontFamily:SERIF, fontSize:53, color:'#000'},
  axisLine:{show:true, onZero:false, lineStyle:{color:'#000', width:3}},
  axisTick:{show:true, inside:true, length:15, lineStyle:{color:'#000', width:3}},
  axisLabel:{show:true, margin:15, padding:[3,0,0,0], fontFamily:SERIF, fontSize:52, color:'#000', formatter:minus}
});
const makeSeries = (i, est, sen, real) => [
  {type:'line', name:seriesNames[0], xAxisIndex:i, yAxisIndex:i, data:est, showSymbol:false, clip:false, z:2,
   itemStyle:{color:'#FF0000'}, lineStyle:{color:'#FF0000', width:17, join:'round', cap:'butt'}},
  {type:'scatter', name:seriesNames[1], xAxisIndex:i, yAxisIndex:i, data:sen, symbol:'circle', symbolSize:12, clip:false, z:3,
   itemStyle:{color:'#0000FF'}},
  {type:'line', name:seriesNames[2], xAxisIndex:i, yAxisIndex:i, data:segments(real), showSymbol:false, connectNulls:false, clip:false, z:4,
   itemStyle:{color:'#FFFF00'}, lineStyle:{color:'#FFFF00', width:10, join:'miter', cap:'butt'}}
];
const rect = (x,y,w,h,fill) => ({type:'rect', z:-10, silent:true, shape:{x,y,width:w,height:h}, style:{fill}});
const text = (str,x,y,font,align) => ({type:'text', z:10, silent:true, x, y, style:{text:str, font, fill:'#000', align, verticalAlign:'middle'}});

chart.setOption({
  animation:false,
  backgroundColor:'transparent',
  grid:grids,
  xAxis:[makeX(0), makeX(1)],
  yAxis:[makeY(0,-350,100,'x (ft)',148), makeY(1,-50,250,'y (ft)',121)],
  legend:{
    show:true, orient:'vertical', left:702, top:91, selectedMode:false,
    padding:[20,25,10,22], itemGap:15, itemWidth:174, itemHeight:26,
    backgroundColor:PALE, borderColor:'#000', borderWidth:3, borderRadius:0,
    textStyle:{fontFamily:SERIF, fontSize:53, lineHeight:52, color:'#000'},
    data:[
      {name:seriesNames[0], icon:'path://M0 0L0 0M174 26L174 26M0 0H168V16H0Z'},
      {name:seriesNames[1], icon:'path://M0 0L0 0M174 26L174 26M87 5A5 5 0 1 0 77 5A5 5 0 1 0 87 5Z'},
      {name:seriesNames[2], icon:'path://M0 0L0 0M174 26L174 26M4 4H34V12H4Z'}
    ]
  },
  graphic:{elements:[
    rect(248,63,1145,1371,PALE),
    rect(1396,63,2,1371,'#FFF6C8'),
    rect(1881,50,1145,1373,PALE),
    rect(3030,50,2,1373,'#FFF6C8'),
    text('red line, recursively.',-8,-16,'98px '+SANS,'left'),
    text('a )  x vs. time',825,1665,'bold 53px '+SANS,'center'),
    text('b )  y vs. time',2486,1655,'bold 53px '+SANS,'center')
  ]},
  series:[...makeSeries(0,estimatedX,sensorX,realX), ...makeSeries(1,estimatedY,sensorY,realY)]
});
</script></body></html>
